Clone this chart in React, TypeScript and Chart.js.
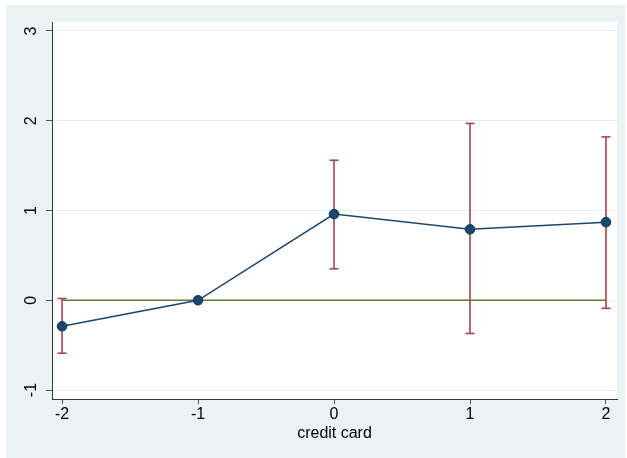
import React, { useEffect, useRef } from "react";
import { Chart, registerables } from "chart.js";
Chart.register(...registerables);

const xValues = [-2, -1, 0, 1, 2];
const estimates = [-0.29, 0, 0.96, 0.79, 0.87];
const ciLow: (number | null)[] = [-0.59, null, 0.35, -0.37, -0.09];
const ciHigh: (number | null)[] = [0.02, null, 1.56, 1.97, 1.82];
const zeroLineX = [-2, 2];
const yTickValues = [-1, 0, 1, 2, 3];
const xTickValues = [-2, -1, 0, 1, 2];
const xTitle = "credit card";

const NAVY = "#1a476f";
const MAROON = "#a5424b";
const OLIVE = "#5f7f33";
const FRAME = "#eaf2f3";
const FONT = "'Liberation Sans', Arial, Helvetica, sans-serif";

const plotBg = {
  id: "plotBg",
  beforeDraw(chart: any) {
    const { ctx, chartArea } = chart;
    ctx.save();
    ctx.fillStyle = "#ffffff";
    ctx.fillRect(chartArea.left, chartArea.top, chartArea.right - chartArea.left, chartArea.bottom - chartArea.top);
    ctx.restore();
  },
};

export default function App() {
  const ref = useRef<HTMLCanvasElement | null>(null);
  useEffect(() => {
    document.body.style.margin = "0";
    const errBars = xValues
      .map((x, i) => ({ x, lo: ciLow[i], hi: ciHigh[i] }))
      .filter((d) => d.lo !== null && d.hi !== null)
      .map((d) => ({
        type: "line" as const,
        data: [
          { x: d.x, y: d.lo },
          { x: d.x, y: d.hi },
        ],
        borderColor: MAROON,
        borderWidth: 1.6,
        pointRadius: 0,
        order: 2,
      }));
    const caps: any[] = [];
    xValues.forEach((x, i) => {
      if (ciLow[i] !== null) caps.push({ x, y: ciLow[i] });
      if (ciHigh[i] !== null) caps.push({ x, y: ciHigh[i] });
    });
    const chart = new Chart(ref.current!, {
      type: "line",
      data: {
        datasets: [
          {
            data: zeroLineX.map((x) => ({ x, y: 0 })),
            borderColor: OLIVE,
            borderWidth: 1.6,
            pointRadius: 0,
            order: 3,
          },
          ...errBars,
          {
            type: "scatter" as const,
            data: caps,
            pointStyle: "line",
            pointRadius: 4.5,
            borderColor: MAROON,
            borderWidth: 1.6,
            showLine: false,
            order: 2,
          } as any,
          {
            data: xValues.map((x, i) => ({ x, y: estimates[i] })),
            borderColor: NAVY,
            borderWidth: 1.5,
            pointRadius: 4.8,
            pointBackgroundColor: NAVY,
            pointBorderColor: "#143a5c",
            pointBorderWidth: 1,
            order: 1,
          },
        ] as any,
      },
      options: {
        animation: false,
        responsive: false,
        maintainAspectRatio: false,
        layout: { padding: { top: 17, right: 8, left: 0, bottom: 0 } },
        plugins: { legend: { display: false }, tooltip: { enabled: false } },
        scales: {
          x: {
            type: "linear",
            min: -2.074,
            max: 2.081,
            afterFit: (s: any) => {
              s.height = 59;
            },
            afterBuildTicks: (s: any) => {
              s.ticks = xTickValues.map((v) => ({ value: v }));
            },
            grid: {
              drawOnChartArea: false,
              drawTicks: true,
              tickLength: 5,
              tickColor: "#555555",
              tickWidth: 1,
            },
            border: { display: true, color: "#333333", width: 1 },
            ticks: {
              color: "#000000",
              font: { family: FONT, size: 16 },
              padding: 1,
              maxRotation: 0,
              autoSkip: false,
              callback: (v: any) => String(v),
            },
            title: {
              display: true,
              text: xTitle,
              color: "#000000",
              font: { family: FONT, size: 16 },
              padding: { top: 0, bottom: 15 },
            },
          },
          y: {
            type: "linear",
            min: -1.1,
            max: 3.1,
            afterFit: (s: any) => {
              s.width = 46;
            },
            afterBuildTicks: (s: any) => {
              s.ticks = yTickValues.map((v) => ({ value: v }));
            },
            grid: {
              drawOnChartArea: true,
              color: "#e6eef0",
              lineWidth: 1,
              drawTicks: true,
              tickLength: 6,
              tickColor: "#555555",
              tickWidth: 1,
            },
            border: { display: true, color: "#333333", width: 1 },
            ticks: {
              color: "#000000",
              font: { family: FONT, size: 16 },
              padding: 7,
              minRotation: 90,
              maxRotation: 90,
              crossAlign: "center",
              autoSkip: false,
              callback: (v: any) => String(v),
            },
          },
        },
      } as any,
      plugins: [plotBg],
    });
    return () => chart.destroy();
  }, []);
  return (
    <div style={{ width: 627, height: 458, background: "#ffffff", position: "relative" }}>
      <div style={{ position: "absolute", left: 6, top: 5, width: 619, height: 453, background: FRAME }}>
        <canvas ref={ref} width={619} height={453} style={{ display: "block", width: 619, height: 453 }} />
      </div>
    </div>
  );
}
